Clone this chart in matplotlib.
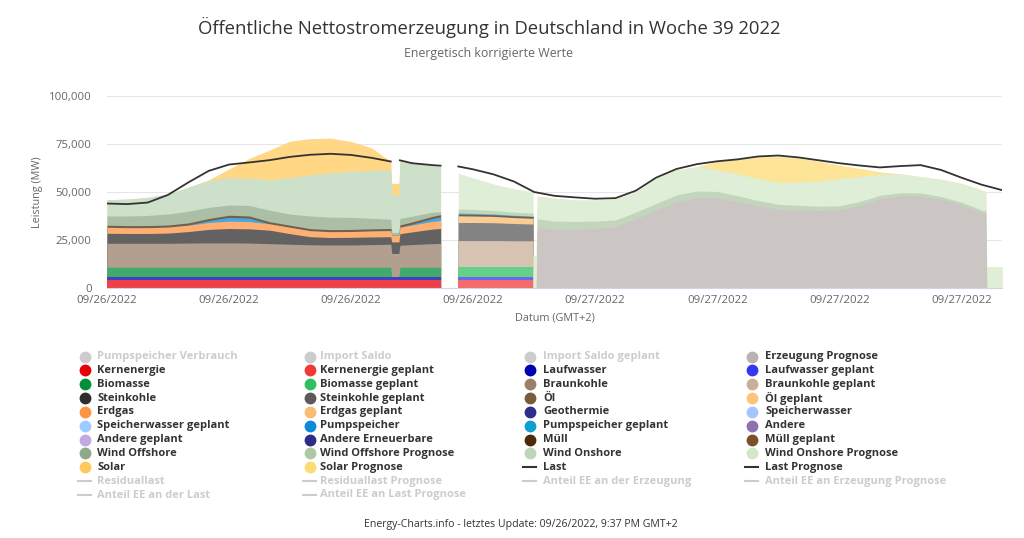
import numpy as np
import matplotlib.pyplot as plt
import matplotlib.colors as mcolors
from matplotlib.lines import Line2D

plt.rcParams['font.family'] = ['Open Sans', 'DejaVu Sans']

# x axis = hours since chart start (26.09.2022)
tick_pos = [0, 6, 12, 18, 24, 30, 36, 42]
tick_labels = ['09/26/2022', '09/26/2022', '09/26/2022', '09/26/2022',
               '09/27/2022', '09/27/2022', '09/27/2022', '09/27/2022']

# --- measured values (MW), incl. short data glitch at ~14h ---
t_ist = [0, 1, 2, 3, 4, 5, 6, 7, 8, 9, 10, 11, 12, 13, 13.95, 14.0, 14.35, 14.4, 15, 16, 16.4]
kern_ist = [4100, 4100, 4100, 4100, 4100, 4100, 4100, 4100, 4100, 4100, 4100, 4100, 4100, 4100, 4100, 4100, 4100, 4100, 4100, 4100, 4100]
lauf_ist = [1500, 1500, 1500, 1500, 1500, 1500, 1500, 1500, 1500, 1500, 1500, 1500, 1500, 1500, 1500, 1500, 1500, 1500, 1500, 1500, 1500]
bio_ist = [5200, 5200, 5200, 5200, 5200, 5200, 5200, 5200, 5200, 5200, 5200, 5200, 5200, 5200, 5200, 0, 0, 5200, 5200, 5200, 5200]
braun_ist = [12500, 12500, 12500, 12500, 12600, 12700, 12700, 12600, 12300, 12000, 11700, 11600, 11600, 11800, 12000, 12400, 12400, 11500, 11800, 12300, 12400]
stein_ist = [5200, 5100, 5100, 5300, 6000, 7000, 7500, 7400, 7000, 5500, 4200, 3900, 4000, 4000, 3900, 6000, 6000, 6000, 6600, 7600, 7800]
gas_ist = [3100, 3000, 3000, 3100, 3300, 3600, 3800, 3800, 3300, 3300, 3100, 3000, 3000, 3100, 3200, 3500, 3500, 3400, 3600, 4000, 4100]
pump_ist = [0, 0, 0, 0, 100, 1000, 2000, 1800, 0, 0, 0, 0, 0, 0, 0, 0, 0, 0, 500, 1500, 2000]
muell_ist = [1100, 1100, 1100, 1100, 1100, 1100, 1100, 1100, 1100, 1100, 1100, 1100, 1100, 1100, 1100, 0, 0, 1100, 1100, 1100, 1100]
offshore_ist = [4800, 5000, 5300, 5700, 6100, 5800, 5300, 5500, 6000, 5800, 6600, 6500, 6300, 5500, 4800, 1500, 1500, 3500, 3000, 2200, 1500]
onshore_ist = [8500, 8800, 9400, 10500, 12500, 14000, 14300, 14200, 15800, 19000, 21500, 23100, 24000, 25000, 25700, 19500, 19500, 29500, 27600, 24200, 23600]
solar_ist = [0, 0, 0, 0, 0, 300, 4500, 10300, 15600, 19000, 18800, 18000, 15500, 11700, 4500, 6000, 6000, 800, 300, 0, 0]
last_ist = [44000, 43700, 44500, 48500, 55000, 61000, 64300, 65400, 66600, 68300, 69400, 69900, 69300, 67800, 65900, np.nan, np.nan, 66500, 65000, 64000, 63700]

# --- planned values ("geplant") ---
t_plan = [17.27, 18, 19, 20, 20.95]
kern_plan = [4100, 4100, 4100, 4100, 4100]
lauf_plan = [1500, 1500, 1500, 1500, 1500]
bio_plan = [5200, 5200, 5200, 5200, 5200]
braun_plan = [13900, 13900, 13900, 13800, 13800]
stein_plan = [9400, 9400, 9300, 9000, 8700]
gas_plan = [3500, 3400, 3300, 3100, 3000]
muell_plan = [900, 900, 900, 900, 900]
pump_plan = [600, 500, 400, 300, 300]
offshore_plan = [2000, 2000, 1800, 1600, 1500]
onshore_plan = [18600, 16500, 13800, 12200, 11200]

# --- forecast ("Prognose") ---
t_prog = [20.95, 21.1, 21.15, 22, 23, 24, 25, 26, 27, 28, 29, 30, 31, 32, 33, 34, 35, 36,
          37, 38, 39, 40, 41, 42, 43, 43.2, 43.25, 44]
erz_prog = [0, 0, 32000, 30500, 30500, 31000, 31900, 36000, 40500, 45000, 47000, 47000, 45000, 42800,
            41000, 40500, 40300, 40600, 43000, 46500, 47900, 47900, 46200, 43300, 39300, 38900, 0, 0]
offshore_prog = [0, 0, 4000, 4300, 4200, 3800, 3500, 3500, 3500, 3500, 3500, 3300, 3000, 2800,
                 2600, 2500, 2300, 2200, 2000, 1800, 1700, 1600, 1500, 1400, 1300, 1300, 0, 0]
onshore_prog = [17000, 17000, 11900, 12000, 11100, 11000, 10900, 10500, 13000, 13000, 12700, 11200, 11500, 11400,
                11400, 12200, 13100, 14200, 13000, 11000, 9900, 8500, 8900, 9800, 10400, 10000, 11000, 11000]
solar_prog = [0, 0, 0, 0, 0, 0, 0, 0, 0, 0, 0, 4500, 7500, 11300,
              13500, 12500, 10300, 7000, 4300, 1200, 0, 0, 0, 0, 0, 0, 0, 0]

t_last_prog = [17.27, 18, 19, 20, 21, 22, 23, 24, 25, 26, 27, 28, 29, 30, 31, 32, 33, 34, 35,
               36, 37, 38, 39, 40, 41, 42, 43, 44]
last_prog = [63300, 61800, 59200, 55500, 50000, 48000, 47200, 46500, 46800, 50700, 57500, 62000, 64500,
             66000, 67000, 68500, 69000, 68000, 66500, 65000, 63800, 62800, 63500, 64000, 61500,
             57500, 53800, 51000]

# legend, Highcharts style: 4 columns, read row by row
legend_labels = [
    'Pumpspeicher Verbrauch', 'Import Saldo', 'Import Saldo geplant', 'Erzeugung Prognose',
    'Kernenergie', 'Kernenergie geplant', 'Laufwasser', 'Laufwasser geplant',
    'Biomasse', 'Biomasse geplant', 'Braunkohle', 'Braunkohle geplant',
    'Steinkohle', 'Steinkohle geplant', 'Öl', 'Öl geplant',
    'Erdgas', 'Erdgas geplant', 'Geothermie', 'Speicherwasser',
    'Speicherwasser geplant', 'Pumpspeicher', 'Pumpspeicher geplant', 'Andere',
    'Andere geplant', 'Andere Erneuerbare', 'Müll', 'Müll geplant',
    'Wind Offshore', 'Wind Offshore Prognose', 'Wind Onshore', 'Wind Onshore Prognose',
    'Solar', 'Solar Prognose', 'Last', 'Last Prognose',
    'Residuallast', 'Residuallast Prognose', 'Anteil EE an der Erzeugung', 'Anteil EE an Erzeugung Prognose',
    'Anteil EE an der Last', 'Anteil EE an Last Prognose',
]
legend_colors = [
    '#cccccc', '#cccccc', '#cccccc', '#b9b3b1',
    '#e8000b', '#f03a3a', '#0000b0', '#3636f0',
    '#008f3a', '#30c060', '#9a7f6a', '#c9af98',
    '#2e2e2e', '#5a5a5a', '#7a5a3c', '#ffc47c',
    '#ff9442', '#f8bc73', '#2e2e8c', '#a8c4ff',
    '#9cccff', '#0a8ad8', '#10a0d0', '#8c72b0',
    '#c4a8e0', '#2c2c88', '#4a2a08', '#7a5028',
    '#8fa888', '#afc7a7', '#bcd6b8', '#d3e8c9',
    '#ffc95c', '#fcdb73', '#333333', '#333333',
    '#cccccc', '#cccccc', '#cccccc', '#cccccc',
    '#cccccc', '#cccccc',
]
legend_kinds = ['o'] * 34 + ['-'] * 8
legend_hidden = ['Pumpspeicher Verbrauch', 'Import Saldo', 'Import Saldo geplant', 'Residuallast',
                 'Residuallast Prognose', 'Anteil EE an der Erzeugung', 'Anteil EE an Erzeugung Prognose',
                 'Anteil EE an der Last', 'Anteil EE an Last Prognose']

col = dict(zip(legend_labels, legend_colors))


def fill_col(c, a=0.75):
    # series are drawn with 75% opacity on white
    rgb = np.array(mcolors.to_rgb(c))
    return tuple(a * rgb + (1 - a))


W, H = 1024, 538
fig = plt.figure(figsize=(W / 100, H / 100), dpi=100)
ax = fig.add_axes([107 / W, 1 - 288 / H, (1002 - 107) / W, (288 - 96) / H])


def draw_stack(t, layers, names):
    tops = np.cumsum(np.array(layers, dtype=float), axis=0)
    # paint from the top layer down so no seams show between bands
    for top, name in reversed(list(zip(tops, names))):
        ax.fill_between(t, 0, top, color=fill_col(col[name]), linewidth=0)


draw_stack(t_ist, [kern_ist, lauf_ist, bio_ist, braun_ist, stein_ist, gas_ist, pump_ist,
                   muell_ist, offshore_ist, onshore_ist, solar_ist],
           ['Kernenergie', 'Laufwasser', 'Biomasse', 'Braunkohle', 'Steinkohle', 'Erdgas',
            'Pumpspeicher', 'Müll', 'Wind Offshore', 'Wind Onshore', 'Solar'])
draw_stack(t_plan, [kern_plan, lauf_plan, bio_plan, braun_plan, stein_plan, gas_plan, muell_plan,
                    pump_plan, offshore_plan, onshore_plan],
           ['Kernenergie geplant', 'Laufwasser geplant', 'Biomasse geplant', 'Braunkohle geplant',
            'Steinkohle geplant', 'Erdgas geplant', 'Müll', 'Pumpspeicher geplant',
            'Wind Offshore Prognose', 'Wind Onshore Prognose'])
draw_stack(t_prog, [erz_prog, offshore_prog, onshore_prog, solar_prog],
           ['Erzeugung Prognose', 'Wind Offshore Prognose', 'Wind Onshore Prognose', 'Solar Prognose'])

ax.plot(t_ist, last_ist, color=col['Last'], lw=1.3)
ax.plot(t_last_prog, last_prog, color=col['Last Prognose'], lw=1.3)

ax.set_xlim(0, 44)
ax.set_ylim(0, 100000)
ax.set_yticks([0, 25000, 50000, 75000, 100000])
ax.yaxis.set_major_formatter(plt.FuncFormatter(lambda v, p: f'{v:,.0f}'))
ax.set_xticks(tick_pos)
ax.set_xticklabels(tick_labels)
ax.tick_params(axis='both', length=0, labelsize=8.2, labelcolor='#666666')
ax.tick_params(axis='x', pad=5)
ax.tick_params(axis='y', pad=11)
ax.grid(axis='y', color='#e6e6e6', lw=0.8)
ax.set_axisbelow(True)
for s in ['top', 'right', 'left']:
    ax.spines[s].set_visible(False)
ax.spines['bottom'].set_color('#ccd6eb')
ax.set_xlabel('Datum (GMT+2)', fontsize=7.8, color='#666666', labelpad=5)
ax.set_ylabel('Leistung (MW)', fontsize=7.8, color='#666666', labelpad=4)

fig.text(489 / W, 1 - 27 / H, 'Öffentliche Nettostromerzeugung in Deutschland in Woche 39 2022',
         ha='center', va='center', fontsize=13.3, color='#333333')
fig.text(489 / W, 1 - 54 / H, 'Energetisch korrigierte Werte',
         ha='center', va='center', fontsize=8.9, color='#666666')
fig.text(521 / W, 1 - 525 / H, 'Energy-Charts.info - letztes Update: 09/26/2022, 9:37 PM GMT+2',
         ha='center', va='center', fontsize=7.6, color='#333333')

# legend drawn item by item to get the fixed Highcharts grid
mark_x = [85, 310, 530, 752]
text_x = [97, 320, 543, 765]
for i, (lab, c, kind) in enumerate(zip(legend_labels, legend_colors, legend_kinds)):
    r, k = divmod(i, 4)
    y = 1 - (356.5 + r * 13.85) / H
    if kind == 'o':
        fig.add_artist(Line2D([mark_x[k] / W], [y], marker='o', ms=7.5, color=c, lw=0,
                              transform=fig.transFigure))
    else:
        fig.add_artist(Line2D([(mark_x[k] - 7) / W, (mark_x[k] + 6) / W], [y, y], color=c, lw=1.5,
                              transform=fig.transFigure))
    fig.text(text_x[k] / W, y, lab, ha='left', va='center', fontsize=8.0, fontweight='bold',
             color='#cccccc' if lab in legend_hidden else '#333333')

fig.savefig('out.png', dpi=100)
